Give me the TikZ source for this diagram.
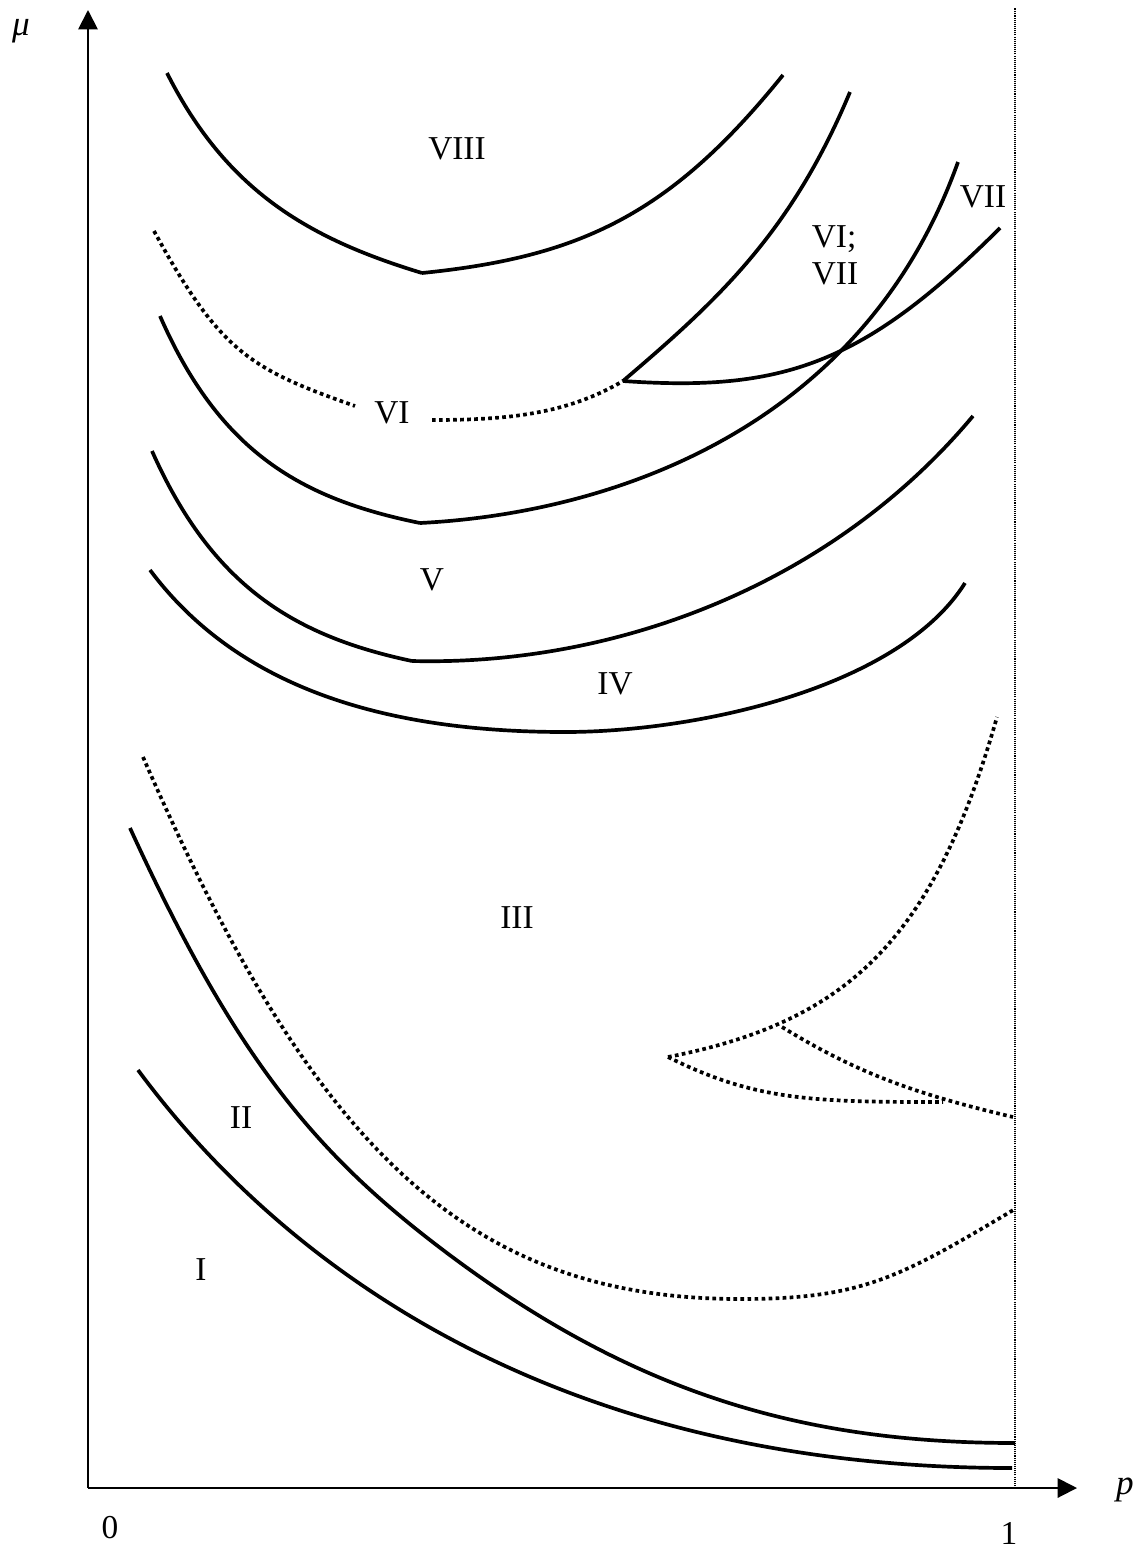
\documentclass[tikz,border=0pt]{standalone}
\usepackage{fontspec}
\setmainfont{Liberation Serif}
\usetikzlibrary{arrows.meta}

\begin{document}
\begin{tikzpicture}[x=.02cm,y=-.02cm,
  curve/.style={line width=2.1pt},
  dots/.style={line width=2.1pt,dash pattern=on 2.1pt off 1.9pt},
  region/.style={font=\fontsize{19}{21}\selectfont},
  axis/.style={line width=1.1pt,-{Triangle[length=11pt,width=11pt]}}]
\useasboundingbox (0,0) rectangle (1146,1549);
% axes
\coordinate (O) at (88,1488);\coordinate (ytip) at (88,10);\coordinate (xtip) at (1077,1488);
\coordinate (top1) at (1015,8);\coordinate (bot1) at (1015,1486);
\draw[axis] (O)--(ytip);\draw[axis] (O)--(xtip);
\draw[line width=.6pt,dash pattern=on .6pt off .6pt] (bot1)--(top1);
\node[font=\fontsize{20}{22}\selectfont\itshape] (mu) at (21,31) {μ};
\node[font=\fontsize{20}{22}\selectfont\itshape] (p) at (1125,1490) {p};
\node[region] (zero) at (110,1528) {0};\node[region] (one) at (1009,1533) {1};
% upper curves
\coordinate (k8) at (422,273);\coordinate (k7) at (623,381);
\coordinate (k5) at (420,523);\coordinate (k4) at (412,661);
\draw[curve] (167,73) .. controls (227,192) and (310,239) .. (k8);
\draw[curve] (k8) .. controls (581,257) and (671,214) .. (783,75);
\draw[dots] (154,231) .. controls (220,352) and (250,369) .. (355,406);
\draw[dots] (432,420) .. controls (508,420) and (567,414) .. (k7);
\draw[curve] (k7) .. controls (718,300) and (791,233) .. (850,92);
\draw[curve] (k7) .. controls (782,392) and (863,365) .. (1000,228);
\draw[curve] (160,316) .. controls (220,453) and (302,499) .. (k5);
\draw[curve] (k5) .. controls (600,514) and (860,436) .. (958,162);
\draw[curve] (152,451) .. controls (212,586) and (294,636) .. (k4);
\draw[curve] (k4) .. controls (614,666) and (831,586) .. (973,416);
\draw[curve] (150,570) .. controls (236,685) and (379,732) .. (565,732)
  .. controls (697,732) and (899,688) .. (965,583);
% lower curves
\draw[dots] (143,757) .. controls (310,1141) and (462,1299) .. (740,1299)
  .. controls (862,1299) and (899,1278) .. (1015,1209);
\draw[curve] (130,828) .. controls (237,1062) and (318,1156) .. (447,1253)
  .. controls (632,1392) and (801,1443) .. (1015,1443);
\draw[curve] (138,1070) .. controls (257,1231) and (515,1468) .. (1012,1468);
\coordinate (cusp) at (668,1057);\coordinate (fork) at (782,1027);\coordinate (meet) at (943,1102);
\draw[dots] (cusp) .. controls (846,1022) and (933,942) .. (997,717);
\draw[dots] (cusp) .. controls (756,1101) and (814,1102) .. (meet);
\draw[dots] (fork) .. controls (860,1075) and (920,1095) .. (1013,1117);
% region labels
\node[region] (r8) at (457,149) {VIII};
\node[region] (r7) at (983,197) {VII};
\node[region,align=left] (r67) at (835,255) {VI;\\VII};
\node[region] (r6) at (392,413) {VI};
\node[region] (r5) at (432,580) {V};
\node[region] (r4) at (615,684) {IV};
\node[region] (r3) at (517,918) {III};
\node[region] (r2) at (241,1118) {II};
\node[region] (r1) at (201,1270) {I};
\end{tikzpicture}
\end{document}
